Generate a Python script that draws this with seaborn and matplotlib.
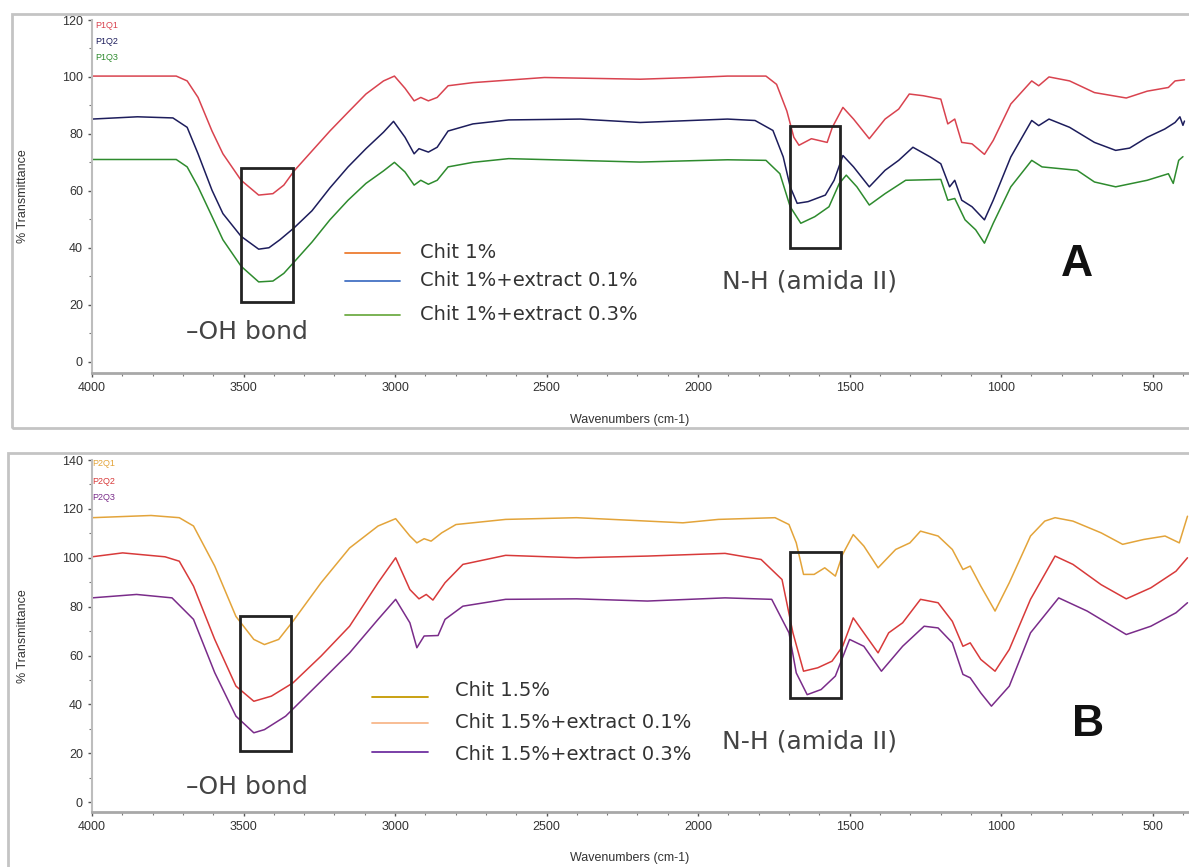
import pandas as pd
import matplotlib.pyplot as plt
import seaborn as sns
from matplotlib.patches import Rectangle
from matplotlib.ticker import MultipleLocator

# ---- panel A : chitosan 1% ----
wn_p1q1 = [4000, 3722, 3686, 3650, 3604, 3568, 3508, 3450, 3403, 3367, 3333, 3274, 3215, 3155,
           3096, 3038, 3002, 2967, 2937, 2915, 2890, 2861, 2825, 2743, 2507, 2191, 2018, 1903,
           1776, 1741, 1707, 1684, 1667, 1626, 1574, 1557, 1522, 1487, 1435, 1383, 1338, 1303,
           1257, 1199, 1176, 1153, 1130, 1096, 1055, 1026, 968, 899, 876, 842, 774, 692, 587,
           518, 448, 426, 395]
t_p1q1 = [100.3, 100.3, 98.6, 92.8, 81, 73, 63.7, 58.5, 59, 62, 67, 74, 81, 87.6,
          94, 98.6, 100.3, 96, 91.6, 92.8, 91.6, 92.8, 96.9, 98, 99.8, 99.2, 99.8, 100.3,
          100.3, 97.4, 88, 78.8, 76, 78.3, 77, 82.3, 89.3, 85.2, 78.3, 85.2, 88.7, 94,
          93.4, 92.2, 83.5, 85.2, 77, 76.5, 72.8, 77.7, 90.5, 98.6, 96.9, 100, 98.6, 94.5, 92.6,
          95, 96.3, 98.6, 99]

wn_p1q2 = [4000, 3850, 3733, 3686, 3650, 3604, 3568, 3508, 3450, 3416, 3380, 3333, 3274, 3215,
           3155, 3096, 3038, 3005, 2967, 2937, 2921, 2890, 2861, 2825, 2743, 2625, 2389, 2191,
           1903, 1812, 1753, 1719, 1696, 1673, 1637, 1580, 1551, 1522, 1487, 1435, 1383, 1338,
           1291, 1234, 1199, 1170, 1153, 1130, 1096, 1055, 1026, 968, 899, 876, 842, 774, 692,
           622, 576, 518, 460, 426, 410, 400, 395]
t_p1q2 = [85.2, 86, 85.6, 82.3, 73, 60.2, 52, 44, 39.5, 40, 42.8, 47, 53, 61,
          68.4, 74.8, 80.6, 84.4, 78.8, 73, 74.8, 73.6, 75.3, 81, 83.5, 84.9, 85.2, 84,
          85.2, 84.7, 81.2, 71.9, 61.4, 55.6, 56.2, 58.5, 63.7, 72.4, 68.4, 61.4, 67.2, 70.7,
          75.3, 71.9, 69.5, 61.4, 63.7, 56.7, 54.4, 49.8, 56.7, 71.9, 84.7, 82.9, 85.2, 82.3, 77,
          74.2, 75, 78.8, 81.7, 84, 86, 83, 84.5]

wn_p1q3 = [4000, 3722, 3686, 3650, 3604, 3568, 3508, 3450, 3403, 3367, 3333, 3274, 3215, 3155,
           3096, 3038, 3002, 2967, 2937, 2915, 2890, 2861, 2825, 2743, 2625, 2191, 1903, 1776,
           1730, 1696, 1661, 1615, 1568, 1534, 1511, 1476, 1435, 1383, 1315, 1199, 1176, 1153,
           1119, 1084, 1055, 1026, 968, 899, 865, 749, 692, 622, 518, 448, 432, 414, 400]
t_p1q3 = [71, 71, 68.4, 61.4, 51, 42.8, 33.5, 28, 28.3, 31, 35, 42, 49.8, 56.7,
          62.6, 67, 70, 66.6, 62, 63.7, 62.3, 63.7, 68.4, 70, 71.3, 70.1, 70.9, 70.7,
          66, 54.4, 48.6, 50.9, 54.4, 62.6, 65.5, 61.4, 55, 59, 63.7, 64, 56.7, 57.3,
          49.8, 46.3, 41.6, 48.6, 61.4, 70.7, 68.4, 67.2, 63.1, 61.4, 63.7, 66, 62.6, 70.7, 72]

# ---- panel B : chitosan 1.5% ----
wn_p2q1 = [4000, 3805, 3712, 3665, 3595, 3525, 3466, 3431, 3384, 3337, 3244, 3150, 3056, 2998,
           2951, 2928, 2904, 2881, 2846, 2799, 2635, 2401, 2167, 2050, 1933, 1746, 1700, 1676,
           1652, 1617, 1582, 1547, 1523, 1488, 1453, 1406, 1348, 1301, 1266, 1208, 1161, 1126,
           1102, 1067, 1020, 973, 903, 856, 822, 763, 670, 599, 529, 459, 412, 385]
t_p2q1 = [116.4, 117.3, 116.4, 113, 96.6, 76, 66.6, 64.5, 66.6, 74, 89.8, 104, 113, 116,
          108.9, 106.1, 107.8, 106.8, 110.2, 113.6, 115.7, 116.4, 115, 114.3, 115.7, 116.4, 113.6, 106.1,
          93.2, 93.2, 95.9, 92.5, 101.4, 109.5, 104.8, 95.9, 103.4, 106.1, 110.9, 108.9, 103.4, 95.2,
          96.6, 88.4, 78.2, 89.8, 108.9, 115, 116.4, 115, 110.2, 105.5, 107.5, 108.9, 106.1, 117]

wn_p2q2 = [4000, 3899, 3759, 3712, 3665, 3595, 3525, 3466, 3408, 3337, 3244, 3150, 3056, 2998,
           2951, 2921, 2897, 2875, 2835, 2776, 2635, 2401, 2167, 1911, 1792, 1723, 1687, 1652,
           1605, 1558, 1523, 1488, 1453, 1406, 1371, 1325, 1266, 1208, 1161, 1126, 1102, 1067,
           1020, 973, 903, 822, 763, 670, 587, 506, 423, 385]
t_p2q2 = [100.4, 102, 100.4, 98.6, 88.4, 66.6, 47.5, 41.3, 43.4, 48.8, 59.8, 72, 89.8, 100,
          87, 83.2, 85, 82.7, 89.8, 97.3, 101, 100, 100.7, 101.8, 99.3, 91.1, 69.3, 53.6,
          55, 57.7, 63.8, 75.4, 69.3, 61.1, 69.3, 73.4, 83, 81.6, 74, 63.8, 65.2, 58.4,
          53.6, 62.5, 83, 100.7, 97.3, 89, 83.2, 87.7, 94.5, 100]

wn_p2q3 = [4000, 3853, 3736, 3665, 3595, 3525, 3466, 3431, 3361, 3244, 3150, 3056, 2998, 2951,
           2928, 2904, 2858, 2835, 2776, 2635, 2401, 2167, 1911, 1757, 1700, 1676, 1640, 1594,
           1547, 1500, 1453, 1395, 1325, 1254, 1208, 1161, 1126, 1102, 1067, 1032, 973, 903,
           810, 716, 587, 506, 423, 385]
t_p2q3 = [83.6, 85, 83.6, 74.8, 53, 35.2, 28.4, 29.7, 35.2, 49.5, 61.1, 74.8, 83, 73.4,
          63.2, 68, 68.2, 74.8, 80.2, 83, 83.2, 82.3, 83.6, 83, 69.3, 52.9, 44, 46.1,
          51.6, 66.6, 63.8, 53.6, 63.8, 72, 71.3, 65.2, 52.3, 50.9, 44.7, 39.3, 47.5, 69.3,
          83.6, 78.2, 68.6, 72, 77.5, 81.6]

codes_a = ["P1Q1", "P1Q2", "P1Q3"]
codes_b = ["P2Q1", "P2Q2", "P2Q3"]
curve_colors_a = ["#d9434f", "#1d1d5c", "#2e8b2e"]
curve_colors_b = ["#e3a43a", "#d83a3a", "#7a2c8a"]
legend_a = ["Chit 1%", "Chit 1%+extract 0.1%", "Chit 1%+extract 0.3%"]
legend_b = ["Chit 1.5%", "Chit 1.5%+extract 0.1%", "Chit 1.5%+extract 0.3%"]
legend_colors_a = ["#ed7d31", "#4472c4", "#70ad47"]
legend_colors_b = ["#c59a00", "#f8b88b", "#7030a0"]

W, H = 1189, 867


def fx(px):
    return px / W


def fy(py):
    return 1 - py / H


sns.set_style("white")
plt.rcParams["font.family"] = ["DejaVu Sans"]

fig = plt.figure(figsize=(11.89, 8.67), dpi=100)

# screenshot frames
fig.patches.append(Rectangle((fx(12), fy(428)), 1.0, (428 - 14) / H, transform=fig.transFigure,
                             fill=False, edgecolor="#c4c4c4", linewidth=2, zorder=0))
fig.patches.append(Rectangle((fx(8), -0.01), 1.0, (867 - 453) / H + 0.01, transform=fig.transFigure,
                             fill=False, edgecolor="#c4c4c4", linewidth=2, zorder=0))

ax_a = fig.add_axes([fx(92), fy(373), 1097 / W, 353 / H])
ax_b = fig.add_axes([fx(92), fy(812), 1097 / W, 352 / H])

df_a = pd.concat([
    pd.DataFrame({"wn": wn_p1q1, "t": t_p1q1, "code": "P1Q1"}),
    pd.DataFrame({"wn": wn_p1q2, "t": t_p1q2, "code": "P1Q2"}),
    pd.DataFrame({"wn": wn_p1q3, "t": t_p1q3, "code": "P1Q3"}),
])
df_b = pd.concat([
    pd.DataFrame({"wn": wn_p2q1, "t": t_p2q1, "code": "P2Q1"}),
    pd.DataFrame({"wn": wn_p2q2, "t": t_p2q2, "code": "P2Q2"}),
    pd.DataFrame({"wn": wn_p2q3, "t": t_p2q3, "code": "P2Q3"}),
])

for ax, df, codes, colors, ytop in [(ax_a, df_a, codes_a, curve_colors_a, 120),
                                     (ax_b, df_b, codes_b, curve_colors_b, 140)]:
    sns.lineplot(data=df, x="wn", y="t", hue="code", hue_order=codes, palette=colors,
                 estimator=None, linewidth=1.1, legend=False, ax=ax)
    ax.set_xlim(4000, 380)
    ax.set_ylim(-4, ytop)
    ax.set_facecolor("none")
    ax.xaxis.set_major_locator(MultipleLocator(500))
    ax.xaxis.set_minor_locator(MultipleLocator(100))
    ax.yaxis.set_major_locator(MultipleLocator(20))
    ax.yaxis.set_minor_locator(MultipleLocator(10))
    ax.tick_params(which="major", length=3, width=1, color="#555555", labelsize=9,
                   labelcolor="#333333", direction="out", left=True, bottom=True)
    ax.tick_params(which="minor", length=2, width=0.8, color="#777777", left=True, bottom=True)
    for lab in ax.get_xticklabels() + ax.get_yticklabels():
        lab.set_family("Liberation Sans")
    sns.despine(ax=ax, top=True, right=True)
    ax.spines["left"].set_color("#bdbdbd")
    ax.spines["bottom"].set_color("#a8a8a8")
    ax.spines["left"].set_linewidth(1.5)
    ax.spines["bottom"].set_linewidth(2)
    ax.set_xlabel("Wavenumbers (cm-1)", fontsize=9, color="#333333", family="Liberation Sans")
    ax.set_ylabel("% Transmittance", fontsize=9, color="#333333", family="Liberation Sans")
    ax.xaxis.set_label_coords(0.49, -0.115)
    ax.yaxis.set_label_coords(-0.057, 0.5)

# sample codes top-left
for i, (c, col) in enumerate(zip(codes_a, curve_colors_a)):
    fig.text(fx(95), fy(25 + 16 * i), c, fontsize=6.5, color=col, va="center",
             family="Liberation Sans")
for i, (c, col) in enumerate(zip(codes_b, curve_colors_b)):
    fig.text(fx(92), fy(464 + 17 * i), c, fontsize=6.5, color=col, va="center",
             family="Liberation Sans")

# marked regions
box_style = dict(fill=False, edgecolor="#222222", linewidth=2, zorder=5)
ax_a.add_patch(Rectangle((3508, 20.8), 3337 - 3508, 67.9 - 20.8, **box_style))
ax_a.add_patch(Rectangle((1696, 40.0), 1531 - 1696, 82.6 - 40.0, **box_style))
ax_b.add_patch(Rectangle((3512, 20.8), 3343 - 3512, 76.0 - 20.8, **box_style))
ax_b.add_patch(Rectangle((1696, 42.5), 1528 - 1696, 102.2 - 42.5, **box_style))

# manual legends
for i, (lab, col) in enumerate(zip(legend_a, legend_colors_a)):
    y = [253, 281, 315][i]
    fig.add_artist(plt.Line2D([fx(345), fx(400)], [fy(y), fy(y)], color=col, linewidth=1.3))
    fig.text(fx(420), fy(y), lab, fontsize=14, color="#333333", va="center")
for i, (lab, col) in enumerate(zip(legend_b, legend_colors_b)):
    y = [697, 723, 752][i]
    fig.add_artist(plt.Line2D([fx(372), fx(428)], [fy(y), fy(y)], color=col, linewidth=1.3))
    fig.text(fx(455), fy([690, 722, 754][i]), lab, fontsize=14, color="#333333", va="center")

# annotations
fig.text(fx(186), fy(332), "\u2013OH bond", fontsize=18, color="#444444", va="center")
fig.text(fx(722), fy(282), "N-H (amida II)", fontsize=18, color="#444444", va="center")
fig.text(fx(186), fy(787), "\u2013OH bond", fontsize=18, color="#444444", va="center")
fig.text(fx(722), fy(741), "N-H (amida II)", fontsize=18, color="#444444", va="center")
fig.text(fx(1077), fy(265), "A", fontsize=32, fontweight="bold", family="Liberation Sans",
         ha="center", va="center", color="#111111")
fig.text(fx(1088), fy(724), "B", fontsize=32, fontweight="bold", family="Liberation Sans",
         ha="center", va="center", color="#111111")

fig.savefig("out.png", dpi=100)
